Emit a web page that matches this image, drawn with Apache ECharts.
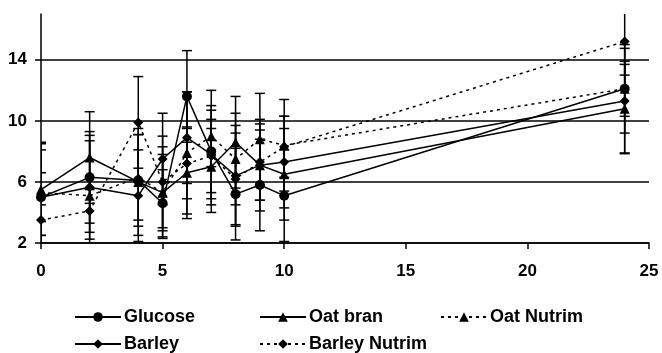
<!DOCTYPE html>
<html>
<head>
<meta charset="utf-8">
<script src="https://cdn.jsdelivr.net/npm/echarts@6/dist/echarts.min.js"></script>
<style>
    html, body { margin: 0; padding: 0; background: #fff; }
    #chart_Main { width: 662px; height: 353px; }
</style>
</head>
<body>
<div id="chart_Main"></div>
<script>
// sampling times (h)
var hours = [0, 2, 4, 5, 6, 7, 8, 9, 10, 24];

var glucose = [5.0, 6.3, 6.1, 4.6, 11.6, 8.0, 5.2, 5.8, 5.1, 12.1];
var glucoseSd = [3.1, 3.0, 3.0, 2.2, 3.0, 4.0, 3.0, 3.0, 3.0, 2.9];

var oatBran = [5.5, 7.6, 6.0, 5.3, 6.6, 7.0, 8.6, 7.1, 6.5, 10.8];
var oatBranSd = [3.0, 3.0, 3.5, 3.0, 3.0, 2.5, 3.0, 3.0, 3.0, 2.9];

var oatNutrim = [5.3, 5.1, 6.3, 5.3, 7.9, 9.0, 7.5, 8.8, 8.4, 12.1];
var oatNutrimSd = [3.3, 3.6, 2.8, 2.5, 4.0, 2.0, 3.0, 3.0, 3.0, 1.8];

var barley = [5.0, 5.65, 5.1, 7.5, 8.9, 7.8, 6.4, 7.1, 7.3, 11.3];
var barleySd = [1.6, 3.4, 3.0, 3.0, 3.0, 2.9, 3.3, 2.3, 3.0, 3.45];

var barleyNutrim = [3.5, 4.1, 9.9, 6.0, 7.2, 7.7, 6.2, 7.3, 8.3, 15.2];
var barleyNutrimSd = [1.0, 1.4, 3.0, 3.0, 2.3, 2.4, 3.0, 2.5, 2.0, 2.2];

var xTicks = [0, 5, 10, 15, 20, 25];
var yTicks = [2, 6, 10, 14];

var chart_Main = echarts.init(document.getElementById('chart_Main'));

var FONT = '"Liberation Sans", Arial, sans-serif';

function toPoints(vals) {
    var pts = [];
    for (var i = 0; i < hours.length; i++) {
        pts.push([hours[i], vals[i]]);
    }
    return pts;
}

function toBars(vals, sd) {
    var bars = [];
    for (var i = 0; i < hours.length; i++) {
        bars.push([hours[i], vals[i] - sd[i], vals[i] + sd[i]]);
    }
    return bars;
}

function renderErrorBar(params, api) {
    var x = api.value(0);
    var top = api.coord([x, api.value(2)]);
    var bot = api.coord([x, api.value(1)]);
    var w = 5;
    var st = { stroke: '#000', lineWidth: 1.5 };
    return {
        type: 'group',
        children: [
            { type: 'line', shape: { x1: top[0], y1: top[1], x2: bot[0], y2: bot[1] }, style: st },
            { type: 'line', shape: { x1: top[0] - w, y1: top[1], x2: top[0] + w, y2: top[1] }, style: st },
            { type: 'line', shape: { x1: bot[0] - w, y1: bot[1], x2: bot[0] + w, y2: bot[1] }, style: st }
        ]
    };
}

var groups = [
    { name: 'Glucose', vals: glucose, sd: glucoseSd, symbol: 'circle', size: 10, dash: 'solid' },
    { name: 'Oat bran', vals: oatBran, sd: oatBranSd, symbol: 'triangle', size: 10, dash: 'solid' },
    { name: 'Oat Nutrim', vals: oatNutrim, sd: oatNutrimSd, symbol: 'triangle', size: 10, dash: [3, 4] },
    { name: 'Barley', vals: barley, sd: barleySd, symbol: 'diamond', size: 10, dash: 'solid' },
    { name: 'Barley Nutrim', vals: barleyNutrim, sd: barleyNutrimSd, symbol: 'diamond', size: 10, dash: [3, 4] }
];

var series = [];
for (var g = 0; g < groups.length; g++) {
    series.push({
        name: groups[g].name + ' sd',
        type: 'custom',
        renderItem: renderErrorBar,
        clip: true,
        z: 1,
        data: toBars(groups[g].vals, groups[g].sd)
    });
}
for (var g = 0; g < groups.length; g++) {
    series.push({
        name: groups[g].name,
        type: 'line',
        data: toPoints(groups[g].vals),
        symbol: groups[g].symbol,
        symbolSize: groups[g].size,
        showAllSymbol: true,
        z: 3,
        itemStyle: { color: '#000' },
        lineStyle: { color: '#000', width: 1.5, type: groups[g].dash }
    });
}

// one legend per item so the two rows line up like the original
var legendPos = [[74, 308], [259, 308], [440, 308], [74, 335], [259, 335]];
var legends = [];
for (var k = 0; k < groups.length; k++) {
    legends.push({
        data: [groups[k].name],
        left: legendPos[k][0],
        top: legendPos[k][1],
        padding: 0,
        itemWidth: 46,
        itemHeight: 12,
        itemGap: 0,
        textStyle: { fontFamily: FONT, fontSize: 18, fontWeight: 'bold', color: '#000', padding: [0, 0, 0, -2] }
    });
}

var option = {
    backgroundColor: '#fff',
    animation: false,
    grid: { left: 41, right: 13, top: 14, bottom: 110 },
    legend: legends,
    xAxis: {
        type: 'value',
        min: 0,
        max: 25,
        interval: 5,
        axisLine: { lineStyle: { color: '#000', width: 1.5 } },
        axisTick: { show: true, length: 6, lineStyle: { color: '#000', width: 1.5 }, customValues: xTicks },
        axisLabel: {
            margin: 20,
            color: '#000',
            fontFamily: FONT,
            fontSize: 17,
            fontWeight: 'bold',
            customValues: xTicks
        },
        splitLine: { show: false }
    },
    yAxis: {
        type: 'value',
        min: 2,
        max: 17,
        interval: 4,
        axisLine: { show: true, lineStyle: { color: '#000', width: 1.5 } },
        axisTick: { show: true, length: 6, lineStyle: { color: '#000', width: 1.5 }, customValues: yTicks },
        axisLabel: {
            margin: 14,
            color: '#000',
            fontFamily: FONT,
            fontSize: 17,
            fontWeight: 'bold',
            customValues: yTicks
        },
        splitLine: { show: true, lineStyle: { color: '#000', width: 1.5 } }
    },
    series: series
};

chart_Main.setOption(option);
</script>
</body>
</html>
